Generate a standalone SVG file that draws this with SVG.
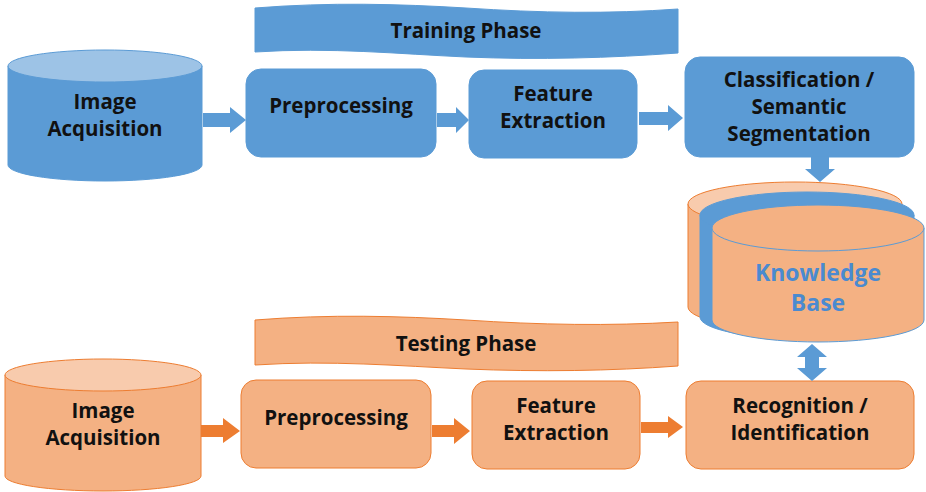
<svg xmlns="http://www.w3.org/2000/svg" width="926" height="492" viewBox="0 0 926 492">
<defs>
<style>
.bf{fill:#5b9bd5;stroke:#5b9bd5;stroke-width:1}
.bt{fill:#9dc3e6;stroke:#5b9bd5;stroke-width:1}
.of{fill:#f4b183;stroke:#ed7d31;stroke-width:1}
.ot{fill:#f8cbad;stroke:#ed7d31;stroke-width:1}
.kf{fill:#f4b183;stroke:#5b9bd5;stroke-width:1}
.kb{fill:#f4b183;stroke:#ed7d31;stroke-width:1}
.ba{fill:#5b9bd5}
.oa{fill:#ed7d31}
.t{font-family:"Open Sans","Liberation Sans",sans-serif;font-weight:bold;font-size:20.5px;fill:#111;text-anchor:middle}
.kt{font-family:"Open Sans","Liberation Sans",sans-serif;font-weight:bold;font-size:23px;fill:#4a8ad0;text-anchor:middle}
</style>
</defs>

<g id="training-banner">
<path class="bf" d="M255,8 C330,2 400,4 466,8 C540,13 610,14 678,9 L678,53 C610,58 540,60 466,57 C400,54 330,47 255,52 Z"/>
<text class="t" x="466" y="38">Training Phase</text>
</g>

<g id="image-acq-train">
<path class="bf" d="M8,66 L8,165 A97,16 0 0 0 202,165 L202,66 Z"/>
<ellipse class="bt" cx="105" cy="66" rx="97" ry="16"/>
<text class="t" x="105" y="109">Image</text>
<text class="t" x="105" y="136">Acquisition</text>
</g>

<g id="preproc-train">
<rect class="bf" x="246" y="69" width="190" height="88" rx="15"/>
<text class="t" x="341" y="113">Preprocessing</text>
</g>

<g id="feature-train">
<rect class="bf" x="469" y="70" width="168" height="88" rx="15"/>
<text class="t" x="553" y="101">Feature</text>
<text class="t" x="553" y="128">Extraction</text>
</g>

<g id="classification">
<rect class="bf" x="685" y="57" width="229" height="100" rx="15"/>
<text class="t" x="799" y="87">Classification /</text>
<text class="t" x="799" y="114">Semantic</text>
<text class="t" x="799" y="141">Segmentation</text>
</g>

<g id="knowledge-base">
<path class="kb" d="M688,204 L688,307 A107,22 0 0 0 902,307 L902,204 Z"/>
<ellipse cx="795" cy="204" rx="107" ry="22" fill="#f8cbad" stroke="#ed7d31"/>
<path class="bf" d="M700,215 L700,317 A107,22 0 0 0 914,317 L914,215 Z"/>
<ellipse class="bf" cx="807" cy="215" rx="107" ry="23"/>
<path class="kf" d="M712,228 L712,320 A106,22 0 0 0 924,320 L924,228 Z"/>
<ellipse class="kf" cx="818" cy="228" rx="106" ry="23"/>
<text class="kt" x="818" y="281">Knowledge</text>
<text class="kt" x="818" y="311">Base</text>
</g>

<g id="testing-banner">
<path class="of" d="M255,320 C330,314 400,316 466,320 C540,325 610,326 678,322 L678,366 C610,371 540,372 466,369 C400,366 330,360 255,365 Z"/>
<text class="t" x="466" y="351">Testing Phase</text>
</g>

<g id="image-acq-test">
<path class="of" d="M5,375 L5,476 A98,15 0 0 0 201,476 L201,375 Z"/>
<ellipse class="ot" cx="103" cy="375" rx="98" ry="16"/>
<text class="t" x="103" y="418">Image</text>
<text class="t" x="103" y="445">Acquisition</text>
</g>

<g id="preproc-test">
<rect class="of" x="241" y="380" width="190" height="88" rx="15"/>
<text class="t" x="336" y="425">Preprocessing</text>
</g>

<g id="feature-test">
<rect class="of" x="472" y="381" width="168" height="88" rx="15"/>
<text class="t" x="556" y="413">Feature</text>
<text class="t" x="556" y="440">Extraction</text>
</g>

<g id="recognition">
<rect class="of" x="686" y="381" width="228" height="88" rx="15"/>
<text class="t" x="800" y="413">Recognition /</text>
<text class="t" x="800" y="440">Identification</text>
</g>

<g id="connectors">
<path class="ba" d="M203,113 L230,113 L230,107 L246,120 L230,133 L230,127 L203,127 Z"/>
<path class="ba" d="M437,113 L456,113 L456,107 L469,120 L456,133 L456,127 L437,127 Z"/>
<path class="ba" d="M639,112 L668,112 L668,105 L683,118 L668,131 L668,125 L639,125 Z"/>
<path class="ba" d="M811,157 L829,157 L829,169 L835,169 L820,182 L805,169 L811,169 Z"/>
<path class="ba" d="M812,344 L827,357 L819,357 L819,368 L827,368 L812,381 L797,368 L805,368 L805,357 L797,357 Z"/>
<path class="oa" d="M201,425 L223,425 L223,418 L240,431 L223,443 L223,437 L201,437 Z"/>
<path class="oa" d="M432,425 L454,425 L454,418 L470,431 L454,444 L454,437 L432,437 Z"/>
<path class="oa" d="M641,422 L668,422 L668,416 L683,427 L668,438 L668,433 L641,433 Z"/>
</g>
</svg>
